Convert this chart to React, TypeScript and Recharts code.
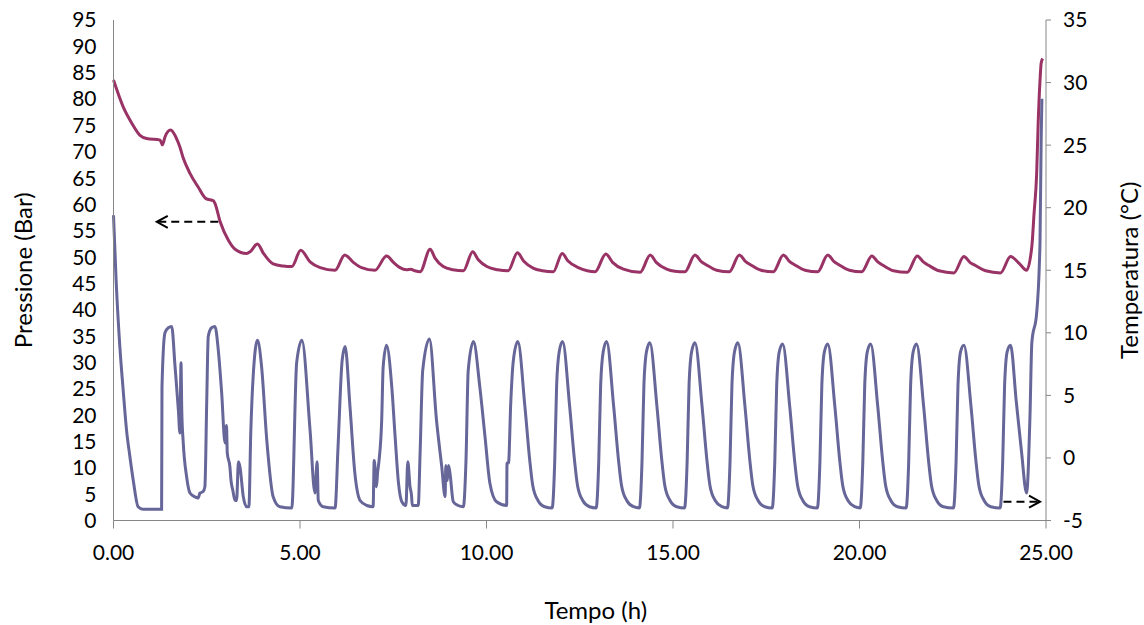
import { LineChart, Line, XAxis, YAxis, ReferenceLine, ReferenceDot } from 'recharts';

const FONT = 'Lato, "Open Sans", sans-serif';
const AXIS_GREY = '#868686';
const PRESSURE_COLOR = '#993366';
const TEMP_COLOR = '#666699';

const timeTicks = [0, 5, 10, 15, 20, 25];
const pressureTicks = [0, 5, 10, 15, 20, 25, 30, 35, 40, 45, 50, 55, 60, 65, 70, 75, 80, 85, 90, 95];
const tempTicks = [-5, 0, 5, 10, 15, 20, 25, 30, 35];

// pressure (left axis, bar)
const pressureTime = [
  0, 0.26, 0.49, 0.71, 0.89, 1.25, 1.31, 1.38, 1.53, 1.69,
  1.78, 1.86, 2.05, 2.27, 2.48, 2.68, 2.72, 2.86, 3.08, 3.26,
  3.57, 3.66, 3.86, 4.02, 4.28, 4.55, 4.78, 5.02, 5.27, 5.54,
  5.94, 6.2, 6.43, 6.65, 7.01, 7.32, 7.52, 7.68, 7.86, 7.97,
  8.08, 8.22, 8.49, 8.62, 8.84, 9.1, 9.38, 9.63, 9.78, 10.01,
  10.3, 10.58, 10.83, 11.0, 11.25, 11.5, 11.79, 12.03, 12.18, 12.46,
  12.7, 12.91, 13.2, 13.38, 13.67, 14.12, 14.39, 14.55, 14.83, 15.05,
  15.32, 15.59, 15.75, 15.9, 16.17, 16.51, 16.78, 16.94, 17.09, 17.36,
  17.69, 17.96, 18.12, 18.27, 18.54, 18.88, 19.15, 19.31, 19.46, 19.73,
  20.06, 20.33, 20.49, 20.64, 20.91, 21.28, 21.55, 21.71, 21.86, 22.13,
  22.53, 22.8, 22.96, 23.11, 23.38, 23.78, 24.05, 24.28, 24.48, 24.62,
  24.68, 24.75, 24.79, 24.84, 24.87, 24.91,
];
const pressureBar = [
  83.6, 78.5, 75.4, 73.1, 72.5, 72.2, 71.3, 72.8, 74.1, 72.5,
  70.9, 69.0, 65.9, 63.3, 61.1, 60.7, 60.2, 56.7, 53.2, 51.5,
  50.7, 51.0, 52.5, 50.7, 48.7, 48.3, 48.2, 51.3, 49.1, 48.0,
  47.5, 50.4, 49.0, 48.0, 47.5, 50.2, 48.9, 48.0, 47.6, 47.7,
  47.4, 47.2, 51.5, 49.8, 48.2, 47.6, 47.4, 51.0, 49.5, 48.2,
  47.6, 47.4, 50.8, 49.2, 47.9, 47.4, 47.2, 50.7, 49.3, 48.0,
  47.4, 47.2, 50.6, 49.0, 47.7, 47.1, 50.4, 49.0, 47.7, 47.3,
  47.2, 50.4, 49.2, 48.5, 47.5, 47.2, 50.4, 49.2, 48.5, 47.5,
  47.2, 50.4, 49.2, 48.5, 47.5, 47.2, 50.4, 49.2, 48.5, 47.5,
  47.2, 50.2, 49.1, 48.4, 47.4, 47.1, 50.2, 49.1, 48.4, 47.4,
  47.0, 50.1, 49.0, 48.4, 47.4, 47.0, 50.1, 48.8, 47.5, 52.0,
  58.3, 65.9, 75.4, 83.6, 86.8, 87.7,
];

// temperature (right axis, °C)
const tempTime = [
  0, 0.07, 0.17, 0.26, 0.35, 0.44, 0.53, 0.66, 0.79, 1.29,
  1.3, 1.38, 1.47, 1.56, 1.65, 1.74, 1.78, 1.81, 1.83, 1.87,
  1.96, 2.05, 2.18, 2.27, 2.32, 2.4, 2.45, 2.5, 2.54, 2.63,
  2.72, 2.81, 2.9, 2.99, 3.03, 3.05, 3.12, 3.15, 3.2, 3.26,
  3.3, 3.35, 3.39, 3.48, 3.57, 3.63, 3.68, 3.75, 3.86, 3.97,
  4.11, 4.28, 4.46, 4.78, 4.91, 5.05, 5.27, 5.4, 5.46, 5.49,
  5.62, 5.94, 6.02, 6.13, 6.21, 6.34, 6.47, 6.61, 6.79, 6.96,
  6.99, 7.05, 7.08, 7.12, 7.19, 7.23, 7.32, 7.46, 7.55, 7.64,
  7.73, 7.84, 7.89, 7.95, 7.99, 8.01, 8.17, 8.22, 8.29, 8.47,
  8.66, 8.8, 8.89, 8.91, 8.95, 8.98, 9.02, 9.11, 9.24, 9.38,
  9.45, 9.51, 9.65, 9.82, 9.96, 10.09, 10.27, 10.54, 10.55, 10.59,
  10.65, 10.72, 10.84,
  11.03, 11.16, 11.24, 11.38, 11.56, 11.76, 11.83, 11.88, 11.95, 12.04,
  12.23, 12.36, 12.44, 12.58, 12.76, 12.94, 13.01, 13.06, 13.13, 13.22,
  13.41, 13.54, 13.62, 13.76, 13.94, 14.1, 14.17, 14.22, 14.29, 14.38,
  14.57, 14.7, 14.78, 14.92, 15.1, 15.31, 15.38, 15.43, 15.5, 15.59,
  15.78, 15.91, 15.99, 16.13, 16.31, 16.46, 16.53, 16.58, 16.65, 16.74,
  16.93, 17.06, 17.14, 17.28, 17.46, 17.66, 17.73, 17.78, 17.85, 17.94,
  18.13, 18.26, 18.34, 18.48, 18.66, 18.87, 18.94, 18.99, 19.06, 19.15,
  19.34, 19.47, 19.55, 19.69, 19.87, 20.02, 20.09, 20.14, 20.21, 20.3,
  20.49, 20.62, 20.7, 20.84, 21.02, 21.25, 21.32, 21.37, 21.44, 21.53,
  21.72, 21.85, 21.93, 22.07, 22.25, 22.52, 22.59, 22.64, 22.71, 22.8,
  22.99, 23.12, 23.2, 23.34, 23.52, 23.77, 23.84, 23.89, 23.96, 24.05,
  24.2, 24.34, 24.48, 24.57, 24.62, 24.75, 24.82, 24.84, 24.87, 24.89,
];
const tempC = [
  19.4, 14.2, 8.9, 5.4, 2.2, 0.1, -1.8, -3.9, -4.1, -4.1,
  5.7, 10.0, 10.4, 10.5, 7.3, 3.8, 2.0, 7.6, 3.8, 1.2,
  -1.5, -2.8, -3.1, -3.2, -2.8, -2.7, -2.3, 4.6, 9.7, 10.4,
  10.5, 8.6, 5.2, 1.2, 2.6, 0.4, -0.7, -1.8, -2.6, -3.4,
  -3.4, -0.3, -0.7, -3.1, -3.9, -3.9, 2.0, 6.8, 9.4, 7.3,
  1.4, -3.1, -3.9, -4.0, 7.6, 9.4, 2.2, -2.8, -0.3, -3.4,
  -3.9, -4.0, 0.9, 7.8, 8.9, 4.1, -1.2, -3.4, -3.8, -3.9,
  -0.2, -2.3, -1.2, -0.2, 3.0, 7.3, 9.0, 5.7, 1.7, -2.0,
  -3.5, -3.8, -0.3, -2.3, -3.0, -3.8, -3.8, 0.4, 7.0, 9.5,
  3.0, -0.7, -3.1, -0.6, -1.8, -0.6, -1.2, -3.5, -3.8, -3.9,
  -0.2, 7.0, 9.3, 5.7, 1.7, -2.0, -3.5, -3.8, -0.4, -0.4,
  4.4, 7.8, 9.3,
  4.1, -0.2, -2.2, -3.4, -3.9, -4.0, -0.2, 5.8, 8.5, 9.3,
  4.1, -0.2, -2.2, -3.4, -3.9, -4.0, -0.2, 5.8, 8.5, 9.3,
  4.1, -0.2, -2.2, -3.4, -3.9, -4.0, -0.2, 5.8, 8.5, 9.2,
  4.1, -0.2, -2.2, -3.4, -3.9, -4.0, -0.2, 5.8, 8.5, 9.2,
  4.1, -0.2, -2.2, -3.4, -3.9, -4.0, -0.2, 5.8, 8.5, 9.2,
  4.1, -0.2, -2.2, -3.4, -3.9, -4.0, -0.2, 5.8, 8.5, 9.1,
  4.1, -0.2, -2.2, -3.4, -3.9, -4.0, -0.2, 5.8, 8.5, 9.1,
  4.1, -0.2, -2.2, -3.4, -3.9, -4.0, -0.2, 5.8, 8.5, 9.1,
  4.1, -0.2, -2.2, -3.4, -3.9, -4.0, -0.2, 5.8, 8.5, 9.1,
  4.1, -0.2, -2.2, -3.4, -3.9, -4.0, -0.2, 5.8, 8.5, 9.0,
  4.1, -0.2, -2.2, -3.4, -3.9, -4.0, -0.2, 5.8, 8.5, 9.0,
  4.6, 0.6, -2.8, 3.3, 9.2, 11.6, 15.3, 17.4, 25.4, 28.7,
];

const pressureData = pressureTime.map((t, i) => ({ t, p: pressureBar[i] }));
const tempData = tempTime.map((t, i) => ({ t, c: tempC[i] }));

const tickStyle = { fill: '#000', fontSize: 21, fontFamily: FONT };

function ArrowHead(props: any) {
  const { cx, cy, dir } = props;
  const s = dir === 'left' ? 1 : -1;
  return (
    <path
      d={`M${cx + s * 11},${cy - 6} L${cx},${cy} L${cx + s * 11},${cy + 6}`}
      fill="none"
      stroke="#000"
      strokeWidth={2}
    />
  );
}

function SideTitle(props: any) {
  const { viewBox, text, side } = props;
  const x = side === 'left' ? viewBox.x + 22 : viewBox.x + viewBox.width - 16;
  const y = viewBox.y + viewBox.height / 2;
  return (
    <text
      x={x}
      y={y}
      transform={`rotate(-90, ${x}, ${y})`}
      textAnchor="middle"
      dominantBaseline="central"
      fontFamily={FONT}
      fontSize={24}
      fill="#000"
    >
      {text}
    </text>
  );
}

function BottomTitle(props: any) {
  const { viewBox, text } = props;
  const x = viewBox.x + viewBox.width / 2 + 16;
  const y = viewBox.y + 89;
  return (
    <text x={x} y={y} textAnchor="middle" dominantBaseline="central" fontFamily={FONT} fontSize={24} fill="#000">
      {text}
    </text>
  );
}

export default function App() {
  return (
    <div style={{ position: 'absolute', left: 0, top: 0, background: '#fff' }}>
      <LineChart width={1144} height={625} margin={{ top: 20, right: 0, bottom: 0, left: 0 }}>
        <XAxis
          dataKey="t"
          type="number"
          domain={[0, 25]}
          ticks={timeTicks}
          interval={0}
          tickFormatter={(v) => Number(v).toFixed(2)}
          height={104.5}
          tickSize={8}
          tickMargin={17}
          axisLine={{ stroke: AXIS_GREY }}
          tickLine={{ stroke: AXIS_GREY }}
          tick={tickStyle}
          allowDuplicatedCategory={false}
          label={<BottomTitle text="Tempo (h)" />}
        />
        <YAxis
          yAxisId="p"
          orientation="left"
          width={113.5}
          domain={[0, 95]}
          ticks={pressureTicks}
          interval={0}
          tickLine={false}
          tickSize={0}
          tickMargin={17}
          axisLine={{ stroke: AXIS_GREY }}
          tick={tickStyle}
          label={<SideTitle text="Pressione (Bar)" side="left" />}
        />
        <YAxis
          yAxisId="c"
          orientation="right"
          width={98}
          domain={[-5, 35]}
          ticks={tempTicks}
          interval={0}
          tickSize={5}
          tickMargin={12}
          axisLine={{ stroke: AXIS_GREY }}
          tickLine={{ stroke: AXIS_GREY }}
          tick={tickStyle}
          label={<SideTitle text="Temperatura (°C)" side="right" />}
        />
        <Line
          yAxisId="p"
          data={pressureData}
          dataKey="p"
          type="monotone"
          stroke={PRESSURE_COLOR}
          strokeWidth={3}
          dot={false}
          activeDot={false}
          isAnimationActive={false}
        />
        <Line
          yAxisId="c"
          data={tempData}
          dataKey="c"
          type="monotone"
          stroke={TEMP_COLOR}
          strokeWidth={3}
          dot={false}
          activeDot={false}
          isAnimationActive={false}
        />
        <ReferenceLine
          yAxisId="p"
          segment={[{ x: 1.2, y: 56.7 }, { x: 2.81, y: 56.7 }]}
          stroke="#000"
          strokeWidth={2}
          strokeDasharray="8 5"
        />
        <ReferenceDot
          yAxisId="p"
          x={1.16}
          y={56.7}
          r={6}
          shape={(p: any) => <ArrowHead {...p} dir="left" />}
        />
        <ReferenceLine
          yAxisId="c"
          segment={[{ x: 23.86, y: -3.5 }, { x: 24.8, y: -3.5 }]}
          stroke="#000"
          strokeWidth={2}
          strokeDasharray="8 5"
        />
        <ReferenceDot
          yAxisId="c"
          x={24.84}
          y={-3.5}
          r={6}
          shape={(p: any) => <ArrowHead {...p} dir="right" />}
        />
      </LineChart>
    </div>
  );
}
